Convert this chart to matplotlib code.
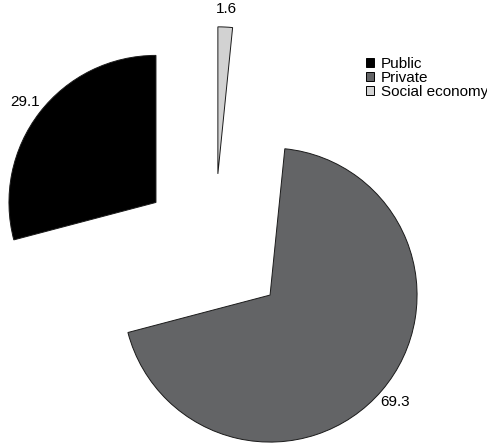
import matplotlib.pyplot as plt

# share of employment by sector (%)
sectors = ["Public", "Private", "Social economy"]
shares = [29.1, 69.3, 1.6]
colors = ["#000000", "#636466", "#d2d2d2"]
explode = [0.5, 0.5, 0.5]

plt.rcParams["font.family"] = ["Liberation Sans", "DejaVu Sans"]

fig = plt.figure(figsize=(4.87, 4.43), dpi=100)
ax = fig.add_axes([0, 0, 1, 1])

wedges, texts = ax.pie(
    shares,
    explode=explode,
    labels=["%.1f" % s for s in shares],
    colors=colors,
    startangle=90,
    counterclock=True,
    labeldistance=1.12,
    radius=1.0,
    wedgeprops={"edgecolor": "#1a1a1a", "linewidth": 0.7},
    textprops={"fontsize": 11},
)
for t in texts:
    t.set_horizontalalignment("center")
    t.set_verticalalignment("center")

# keep the pie unit circle at a fixed size inside the frame
ax.set_xlim(-1.457, 1.856)
ax.set_ylim(-1.331, 1.682)
ax.set_aspect("auto")
ax.axis("off")

leg = ax.legend(
    wedges,
    sectors,
    loc="upper left",
    bbox_to_anchor=(366 / 487, 1 - 57 / 443),
    bbox_transform=fig.transFigure,
    frameon=False,
    fontsize=11,
    handlelength=0.55,
    handleheight=0.55,
    handletextpad=0.4,
    labelspacing=0.0,
    borderpad=0,
    borderaxespad=0,
)
for h in leg.legend_handles:
    h.set_edgecolor("#000000")
    h.set_linewidth(0.7)

fig.savefig("out.png", dpi=100)
